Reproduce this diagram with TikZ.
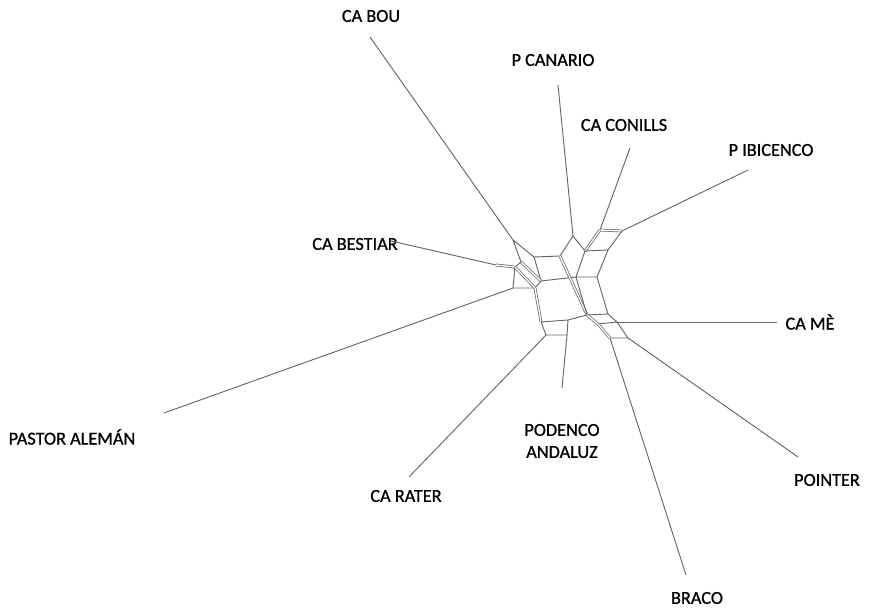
\documentclass[tikz,border=0pt]{standalone}
\usepackage{fontspec}
\setmainfont{Carlito}
\newfontfamily\labfont[FakeBold=0.9]{Carlito}
\begin{document}
\begin{tikzpicture}[x=0.75pt,y=-0.75pt,
  net/.style={draw=black!60, line width=0.7pt},
  dbl/.style={draw=black!60, line width=0.55pt, double=white, double distance=1.0pt},
  lab/.style={font=\labfont\fontsize{13.7}{16.5}\selectfont, text=black, inner sep=0pt, align=center}]
\useasboundingbox (0,0) rectangle (883,609);
% labels
\node[lab] (Lbou) at (371,16) {CA BOU};
\node[lab] (Lcan) at (553,60) {P CANARIO};
\node[lab] (Lcon) at (624,125) {CA CONILLS};
\node[lab] (Libi) at (771,150) {P IBICENCO};
\node[lab] (Lbes) at (355,244) {CA BESTIAR};
\node[lab] (Lme) at (810,322) {CA MÈ};
\node[lab] (Lpas) at (72,437) {PASTOR ALEMÁN};
\node[lab] (Lpod) at (562,441) {PODENCO\\ANDALUZ};
\node[lab] (Lpoi) at (827,480) {POINTER};
\node[lab] (Lrat) at (406,496) {CA RATER};
\node[lab] (Lbra) at (697,598) {BRACO};
% outer ends of leaf edges
\coordinate (Obou) at (370,37);
\coordinate (Ocan) at (558,85);
\coordinate (Ocon) at (630,148);
\coordinate (Oibi) at (748,170);
\coordinate (Obes) at (391,241);
\coordinate (Ome) at (777,322);
\coordinate (Opas) at (164,413);
\coordinate (Opod) at (562,388);
\coordinate (Opoi) at (798,457);
\coordinate (Orat) at (409,477);
\coordinate (Obra) at (686,575);
% network nodes
\coordinate (bou) at (513,240);
\coordinate (a) at (521,262);
\coordinate (b) at (534,257);
\coordinate (c) at (541,281);
\coordinate (bes) at (496,265);
\coordinate (d) at (515,267);
\coordinate (pas) at (513,288);
\coordinate (e) at (535,288);
\coordinate (f) at (560,256);
\coordinate (can) at (573,236);
\coordinate (g) at (585,251);
\coordinate (con) at (600,230);
\coordinate (ibi) at (622,231);
\coordinate (h) at (608,250);
\coordinate (i) at (597,277);
\coordinate (j) at (576,277);
\coordinate (l) at (587,315);
\coordinate (m) at (541,322);
\coordinate (n) at (568,320);
\coordinate (o) at (546,335);
\coordinate (p) at (567,335);
\coordinate (q) at (608,314);
\coordinate (r) at (617,322);
\coordinate (s) at (598,324);
\coordinate (t) at (610,338);
\coordinate (u) at (628,338);
% leaf edges
\draw[net] (Obou) -- (bou);
\draw[net] (Ocan) -- (can);
\draw[net] (Ocon) -- (con);
\draw[net] (Oibi) -- (ibi);
\draw[net] (Obes) -- (bes);
\draw[net] (Ome) -- (r);
\draw[net] (Opas) -- (pas);
\draw[net] (Opod) -- (p);
\draw[net] (Opoi) -- (u);
\draw[net] (Orat) -- (o);
\draw[net] (Obra) -- (t);
% internal splits
\draw[net] (bou) -- (a) (bou) -- (b) (b) -- (c);
\draw[dbl] (a) -- (c);
\draw[dbl] (bes) -- (d);
\draw[net] (d) -- (a) (pas) -- (d) (pas) -- (e) (c) -- (e);
\draw[dbl] (d) -- (e);
\draw[net] (b) -- (f) (f) -- (can) (can) -- (g);
\draw[dbl] (g) -- (con);
\draw[dbl] (con) -- (ibi);
\draw[net] (ibi) -- (h) (g) -- (h) (h) -- (i) (g) -- (j) (j) -- (i) (c) -- (j);
\draw[dbl] (f) -- (l);
\draw[net] (j) -- (l) (i) -- (q);
\draw[dbl] (e) -- (m);
\draw[net] (m) -- (n) (n) -- (l) (m) -- (o) (o) -- (p) (p) -- (n);
\draw[net] (l) -- (q) (q) -- (r) (s) -- (r) (r) -- (u) (t) -- (u);
\draw[dbl] (l) -- (s);
\draw[dbl] (s) -- (t);
\end{tikzpicture}
\end{document}
